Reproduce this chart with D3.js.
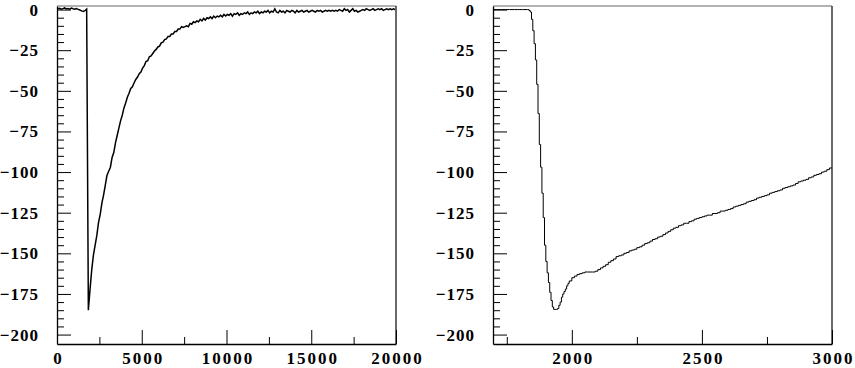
<!DOCTYPE html>
<html>
<head>
<meta charset="utf-8">
<script src="https://cdn.jsdelivr.net/npm/d3@7"></script>
<style>
  body { margin: 0; background: #fff; }
  svg { display: block; }
  .tick line { stroke: #000; }
  .domain { stroke: #000; stroke-width: 1.3; }
  .hist { fill: none; stroke: #000; }
</style>
</head>
<body>
<div id="chart"></div>
<script>
// left panel: full range, 100-unit bins starting at 0
const leftBinStart = 0;
const leftBinWidth = 100;
const leftValues = [
  0.5, 0.8, 0.2, 0.6, 1.0, 0.4, 0.7, 0.3, 0.9, 0.5,
  0.2, 0.6, 0.1, -0.3, -0.8, -1.2, -0.6, 0.3, -185, -172,
  -160, -151, -145, -139, -131, -126, -119, -114, -108, -102,
  -99.5, -97, -91, -88, -82, -77.5, -73, -68.5, -65, -60.5,
  -57.5, -54, -51.5, -48.5, -47.5, -45, -43, -41.5, -39.5, -38.5,
  -36, -34.5, -32, -31.5, -29, -28.5, -27, -25.5, -24.5, -23,
  -22.5, -20.5, -20, -18.5, -18, -16.5, -16.5, -15, -15, -13.5,
  -13.5, -12, -12, -10.5, -11, -10.5, -10, -10.5, -8.5, -9,
  -7.5, -8, -7, -7.5, -6, -7, -5.5, -6.5, -5, -5.5,
  -4.5, -5.5, -4, -5, -4, -4.5, -3.5, -4.5, -3, -4,
  -3, -3.5, -2.5, -4, -2.5, -3, -2, -3.5, -2.5, -3,
  -2, -2.5, -1.5, -3, -2, -2.5, -1.5, -2, -1, -2.5,
  -1.5, -2, -1, -1.5, -0.5, -2, -1, -1.5, 0.5, -1.5,
  -2, -0.5, -1.5, -1, -2, -0.5, -1, -1.5, -0.5, -1,
  -2, -0.5, -1.5, -1, -0.5, -1.5, -1, -0.5, -1.5, -1,
  -0.5, -1, -1.5, -0.5, -1, -0.5, -1.5, -1, -0.5, -1,
  -0.5, -1, -0.5, -1, -0.5, -1, 0, -0.5, -1, 0.5,
  -0.5, 0, -1.5, -0.5, 0.5, -1, -0.5, -1.5, -1, -0.5,
  0, -0.5, 0.5, 0, -0.5, 0, 0.5, -0.5, 0, 0.5,
  0, 0.5, -0.5, 0, 0.5, 0, 0.5, 0, 0.5, 0
];

// right panel: zoom on the dip, [bin low edge, value]
const rightBins = [
  [1690, 0], [1700, 0], [1710, 0], [1720, 0], [1730, 0], [1740, 0], [1750, 0],
  [1760, 0], [1770, 0], [1780, 0], [1790, 0], [1800, 0], [1810, 0], [1820, 0],
  [1830, 0], [1835, -0.5], [1840, -1.5], [1845, -6], [1850, -13], [1855, -21],
  [1860, -31], [1865, -46], [1870, -64], [1875, -83], [1880, -97], [1885, -113],
  [1890, -128], [1895, -145], [1900, -155], [1905, -162], [1910, -168], [1915, -174],
  [1920, -179], [1925, -183], [1930, -184.5], [1935, -184.5], [1940, -184.5], [1945, -184],
  [1950, -182], [1955, -180], [1960, -177], [1965, -175], [1970, -173.5], [1975, -172],
  [1980, -170], [1985, -168.5], [1990, -167],
  [2000, -165], [2010, -164], [2020, -163], [2030, -162.5], [2040, -162], [2050, -161.5],
  [2060, -161.5], [2070, -161.5], [2080, -161.5], [2090, -161], [2100, -160], [2110, -159],
  [2120, -158], [2130, -157], [2140, -155.5], [2150, -154.5], [2160, -153.5], [2170, -152],
  [2180, -151.5], [2190, -151], [2200, -150], [2210, -149.5], [2220, -148.5], [2230, -148],
  [2240, -147.5], [2250, -146.5], [2260, -146], [2270, -145], [2280, -144], [2290, -143.5],
  [2300, -142.5], [2310, -141.5], [2320, -141], [2330, -140], [2340, -139.5], [2350, -138.5],
  [2360, -137.5], [2370, -136.5], [2380, -135.5], [2390, -134.5], [2400, -134], [2410, -133],
  [2420, -132.5], [2430, -131.5], [2440, -131.5], [2450, -130.5], [2460, -130], [2470, -129],
  [2480, -128.5], [2490, -128], [2500, -127.5], [2510, -127], [2520, -126.5], [2530, -126.5],
  [2540, -125.5], [2550, -125.5], [2560, -125], [2570, -124], [2580, -124], [2590, -123.5],
  [2600, -123], [2610, -122.5], [2620, -121.5], [2630, -121], [2640, -120.5], [2650, -120],
  [2660, -119.5], [2670, -118.5], [2680, -118], [2690, -117.5], [2700, -117], [2710, -116],
  [2720, -115.5], [2730, -115], [2740, -114.5], [2750, -114], [2760, -113], [2770, -112.5],
  [2780, -112], [2790, -111.5], [2800, -111], [2810, -110], [2820, -109.5], [2830, -109],
  [2840, -108.5], [2850, -108], [2860, -107], [2870, -106], [2880, -105.5], [2890, -105],
  [2900, -104.5], [2910, -103.5], [2920, -103], [2930, -102], [2940, -101.5], [2950, -101],
  [2960, -100], [2970, -99.5], [2980, -98.5], [2990, -97.5]
];
const rightLastEdge = 3000;

const yMajor = [0, -25, -50, -75, -100, -125, -150, -175, -200];
const leftXMajor = [0, 5000, 10000, 15000, 20000];
const leftXMinor = [2500, 7500, 12500, 17500];
const rightXMajor = [2000, 2500, 3000];
const rightXMinor = [1750, 2250, 2750];

const W = 855, H = 368;
const plotTop = 6, plotBottom = 344;
const labelFont = "'Liberation Serif', 'Times New Roman', Times, serif";

const svg = d3.select("#chart").append("svg")
              .attr("width", W)
              .attr("height", H);

const yScale = d3.scaleLinear()
                 .domain([-205.8, 2.2])
                 .range([plotBottom, plotTop]);

const yMinor = d3.range(-200, 1, 5).filter(v => v % 25 !== 0);

function styleLabels(sel, spacing) {
  sel.style("font-family", labelFont)
     .style("font-weight", "bold")
     .style("font-size", "17px")
     .style("letter-spacing", spacing + "px")
     .attr("fill", "#000");
}

function drawPanel(opts) {
  const xScale = d3.scaleLinear()
                   .domain(opts.xDomain)
                   .range([opts.left, opts.right]);

  const g = svg.append("g");

  // frame top / right
  g.append("line")
   .attr("x1", opts.left).attr("x2", opts.right)
   .attr("y1", plotTop).attr("y2", plotTop)
   .attr("stroke", "#999").attr("stroke-width", 1.6);
  g.append("line")
   .attr("x1", opts.right).attr("x2", opts.right)
   .attr("y1", plotTop).attr("y2", plotBottom)
   .attr("stroke", "#444").attr("stroke-width", 1.6);

  const line = d3.line()
                 .x(d => xScale(Math.max(opts.xDomain[0], Math.min(opts.xDomain[1], d[0]))))
                 .y(d => yScale(d[1]))
                 .curve(opts.curve);

  g.append("path")
   .attr("class", "hist")
   .attr("stroke-width", opts.lineWidth)
   .attr("d", line(opts.points));

  // y axis, ticks pointing inward
  g.append("g")
   .attr("transform", "translate(" + opts.left + ",0)")
   .call(d3.axisLeft(yScale).tickValues(yMinor).tickSize(-7).tickSizeOuter(0).tickFormat(""))
   .call(a => a.select(".domain").remove());

  g.append("g")
   .attr("transform", "translate(" + opts.left + ",0)")
   .call(d3.axisLeft(yScale).tickValues(yMajor).tickSize(-14).tickSizeOuter(0).tickPadding(18))
   .call(a => a.selectAll("text").call(styleLabels, 1));

  // x axis, ticks pointing up
  g.append("g")
   .attr("transform", "translate(0," + plotBottom + ")")
   .call(d3.axisBottom(xScale).tickValues(opts.xMinor).tickSize(-7).tickSizeOuter(0).tickFormat(""))
   .call(a => a.select(".domain").remove());

  g.append("g")
   .attr("transform", "translate(0," + plotBottom + ")")
   .call(d3.axisBottom(xScale).tickValues(opts.xMajor).tickSize(-14).tickSizeOuter(0).tickFormat(d3.format("d")))
   .call(a => a.selectAll("text")
               .attr("y", 14)
               .attr("dy", "0")
               .attr("dx", 1)
               .attr("dominant-baseline", "central")
               .call(styleLabels, 2));
}

const leftPoints = leftValues.map((v, i) => [leftBinStart + (i + 0.5) * leftBinWidth, v]);
leftPoints.unshift([leftBinStart, leftValues[0]]);

const rightPoints = rightBins.slice();
rightPoints.push([rightLastEdge, rightBins[rightBins.length - 1][1]]);

drawPanel({
  left: 57, right: 396,
  xDomain: [0, 20000],
  xMajor: leftXMajor, xMinor: leftXMinor,
  points: leftPoints, curve: d3.curveLinear,
  lineWidth: 1.5
});

drawPanel({
  left: 493, right: 832,
  xDomain: [1697, 3000],
  xMajor: rightXMajor, xMinor: rightXMinor,
  points: rightPoints, curve: d3.curveStepAfter,
  lineWidth: 1
});
</script>
</body>
</html>
